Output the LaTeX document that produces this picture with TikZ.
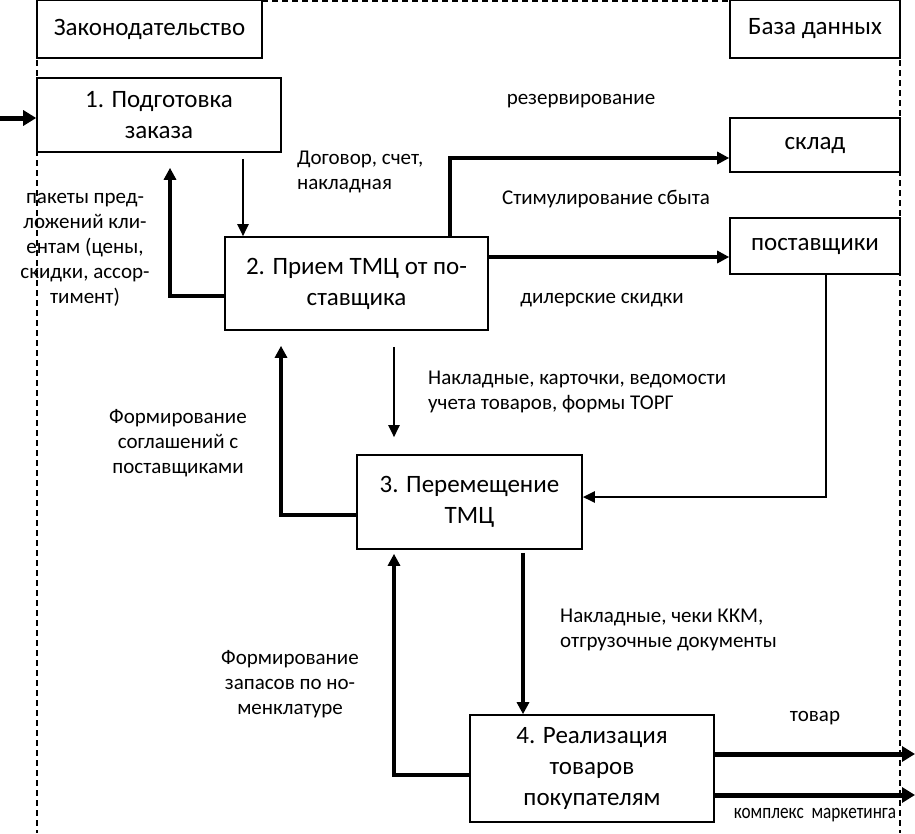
\documentclass[tikz,border=0pt]{standalone}
\usepackage{fontspec}
\setmainfont{Carlito}
\usetikzlibrary{arrows.meta,calc}
\tikzset{
	blok/.style={draw,line width=1.6pt,fill=white,align=center,inner sep=2pt,font=\fontsize{25}{31}\selectfont},
	nadpis/.style={align=center,inner sep=0pt,font=\fontsize{21}{25}\selectfont},
	tonko/.style={line width=2.4pt,-{Triangle[length=12pt,width=11pt]}},
	tolsto/.style={line width=3.2pt,-{Triangle[length=12pt,width=12pt]}},
	vyhod/.style={line width=5pt,-{Triangle[length=13pt,width=15pt]}},
	granica/.style={line width=1.5pt,dash pattern=on 6pt off 4pt}
}
\begin{document}
\begin{tikzpicture}[x=1pt,y=-1pt,line join=miter]
		\useasboundingbox (0,0) rectangle (915,833);
		%==границы
		\draw[granica] (37,0)--(37,833);
		\draw[granica] (262,1)--(730,1);
		\draw[granica] (900,0)--(900,833);
		%==блоки
		\node[blok,minimum width=225pt,minimum height=58pt] (zak) at (149.5,29) {Законодательство};
		\node[blok,minimum width=170pt,minimum height=58pt] (bd) at (815,29) {База данных};
		\node[blok,minimum width=244pt,minimum height=74pt] (p1) at (159,115) {1. Подготовка\\заказа};
		\node[blok,minimum width=263pt,minimum height=93pt] (p2) at (356.5,283.5) {2. Прием ТМЦ от по-\\ставщика};
		\node[blok,minimum width=225pt,minimum height=94pt] (p3) at (469.5,502) {3. Перемещение\\ТМЦ};
		\node[blok,minimum width=244pt,minimum height=107pt] (p4) at (592,768.5) {4. Реализация\\товаров\\покупателям};
		\node[blok,minimum width=170pt,minimum height=54pt] (sklad) at (815,145) {склад};
		\node[blok,minimum width=170pt,minimum height=56pt] (post) at (815,246) {поставщики};
		%==вспомогательные точки
		\coordinate (in) at (0,118);
		\coordinate (x1) at (243,0);
		\coordinate (x2) at (170,0);
		\coordinate (x3) at (450,0);
		\coordinate (x4) at (394,0);
		\coordinate (x5) at (281,0);
		\coordinate (x6) at (523,0);
		\coordinate (o1) at (915,754);
		\coordinate (o2) at (915,795);
		%==связи
		\draw[vyhod] (in)--(in -| p1.west);
		\draw[tonko] ($(x1 |- p1.south)+(0,6)$)--(x1 |- p2.north);
		\draw[tolsto] ([yshift=-12.5pt]p2.west) -| ($(x2 |- p1.south)+(0,15)$);
		\draw[tolsto] (x3 |- p2.north) |- ([yshift=-13pt]sklad.west);
		\draw[tolsto] (p2.east |- 0,257)--(post.west |- 0,257);
		\draw[tonko] ([xshift=11pt]post.south) |- ([yshift=5pt]p3.east);
		\draw[tonko] ($(x4 |- p2.south)+(0,16)$)--($(x4 |- p3.north)+(0,-17)$);
		\draw[tolsto] ([yshift=-13pt]p3.west) -| ($(x5 |- p2.south)+(0,15)$);
		\draw[tolsto,line width=3.8pt] ($(x6 |- p3.south)+(0,3)$)--(x6 |- p4.north);
		\draw[tolsto] ([yshift=-6.5pt]p4.west) -| ($(x4 |- p3.south)+(0,4)$);
		\draw[vyhod] (p4.east |- o1)--(o1);
		\draw[vyhod] (p4.east |- o2)--(o2);
		%==надписи
		\node[nadpis] (t1) at (85,250) {пакеты пред-\\ложений кли-\\ентам (цены,\\скидки, ассор-\\тимент)};
		\node[nadpis,anchor=west,align=left] (t2) at (297,172) {Договор, счет,\\накладная};
		\node[nadpis] (t3) at (581,101) {резервирование};
		\node[nadpis] (t4) at (606,199) {Стимулирование сбыта};
		\node[nadpis] (t5) at (602,300) {дилерские скидки};
		\node[nadpis,anchor=west,align=left] (t6) at (428,392) {Накладные, карточки, ведомости\\учета товаров, формы ТОРГ};
		\node[nadpis] (t7) at (178,443) {Формирование\\соглашений с\\поставщиками};
		\node[nadpis,anchor=west,align=left] (t8) at (560,630) {Накладные, чеки ККМ,\\отгрузочные документы};
		\node[nadpis] (t9) at (290,684) {Формирование\\запасов по но-\\менклатуре};
		\node[nadpis] (t10) at (815,718) {товар};
		\node[nadpis] (t11) at (815,815) {\scalebox{0.82}[1]{комплекс\ \ маркетинга}};
\end{tikzpicture}
\end{document}
